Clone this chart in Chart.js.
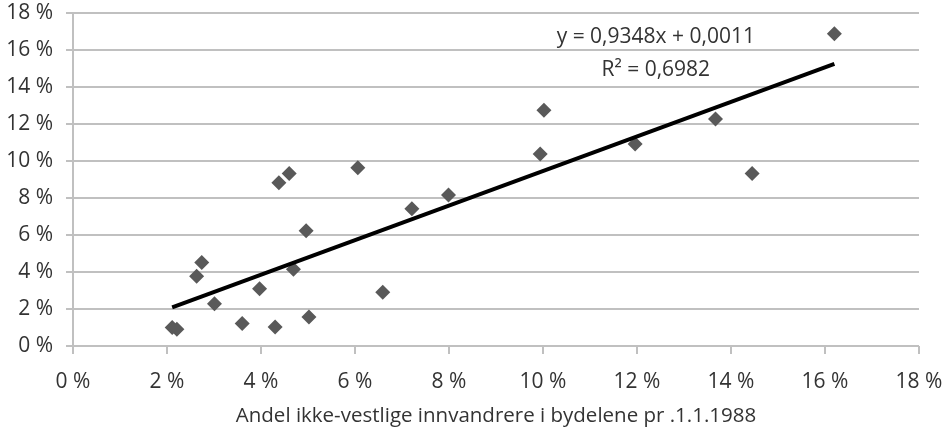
<!DOCTYPE html>
<html>
<head>
<meta charset="utf-8">
<script src="https://cdn.jsdelivr.net/npm/chart.js@4.4.1/dist/chart.umd.min.js"></script>
<style>
  html, body { margin: 0; padding: 0; background: #fff; }
  #wrap { width: 949px; height: 428px; position: relative; }
</style>
</head>
<body>
<div id="wrap"><canvas id="scatter"></canvas></div>
<script>
// andel ikke-vestlige innvandrere (x) mot y, i prosent
var xValues = [2.11, 2.21, 2.63, 2.74, 3.01, 3.60, 3.97, 4.30, 4.38, 4.60, 4.69, 4.96, 5.02,
               6.06, 6.59, 7.21, 7.99, 9.94, 10.02, 11.96, 13.67, 14.45, 16.20];
var yValues = [1.00, 0.90, 3.77, 4.51, 2.29, 1.21, 3.09, 1.03, 8.83, 9.33, 4.15, 6.23, 1.57,
               9.64, 2.91, 7.42, 8.16, 10.38, 12.74, 10.92, 12.27, 9.33, 16.88];

// trendlinje fra Excel
var slope = 0.9348;
var intercept = 0.0011;
var equationLines = ['y = 0,9348x + 0,0011', 'R\u00b2 = 0,6982'];
var axisTitle = 'Andel ikke-vestlige innvandrere i bydelene pr .1.1.1988';

var points = xValues.map(function (x, i) { return { x: x, y: yValues[i] }; });
var xMin = Math.min.apply(null, xValues);
var xMax = Math.max.apply(null, xValues);
var trend = [xMin, xMax].map(function (x) {
    return { x: x, y: (slope * x / 100 + intercept) * 100 };
});

var fontFamily = '"Open Sans", "Noto Sans", sans-serif';
var fontSize = 21;
var textColor = '#333333';
var gridColor = '#c0c0c0';

var equationPlugin = {
    id: 'equation',
    afterDatasetsDraw: function (chart) {
        var ctx = chart.ctx;
        var xs = chart.scales.x, ys = chart.scales.y;
        ctx.save();
        ctx.font = fontSize + 'px ' + fontFamily;
        ctx.fillStyle = textColor;
        ctx.textAlign = 'center';
        ctx.textBaseline = 'middle';
        ctx.fillText(equationLines[0], xs.getPixelForValue(12.4), ys.getPixelForValue(16.7));
        ctx.fillText(equationLines[1], xs.getPixelForValue(12.4), ys.getPixelForValue(14.9));
        ctx.restore();
    }
};

var ctx = document.getElementById('scatter').getContext('2d');
var chart = new Chart(ctx, {
    type: 'scatter',
    data: {
        datasets: [{
            type: 'line',
            data: trend,
            borderColor: '#000',
            borderWidth: 4,
            pointRadius: 0,
            fill: false
        }, {
            data: points,
            pointStyle: 'rectRot',
            pointRadius: 7.5,
            pointHoverRadius: 7.5,
            backgroundColor: '#595959',
            borderColor: '#595959',
            borderWidth: 0
        }]
    },
    plugins: [equationPlugin],
    options: {
        responsive: true,
        maintainAspectRatio: false,
        animation: false,
        layout: { padding: 0 },
        plugins: {
            legend: { display: false },
            tooltip: { enabled: false }
        },
        scales: {
            x: {
                type: 'linear',
                min: 0,
                max: 18,
                border: { display: false },
                grid: { drawOnChartArea: false, drawTicks: true, tickLength: 8, color: gridColor, lineWidth: 2 },
                ticks: {
                    stepSize: 2,
                    padding: 15,
                    color: textColor,
                    font: { family: fontFamily, size: fontSize },
                    callback: function (v) { return v + ' %'; }
                },
                title: {
                    display: true,
                    text: axisTitle,
                    color: textColor,
                    font: { family: fontFamily, size: 20.5 },
                    padding: { top: 2, bottom: 0 }
                },
                afterFit: function (scale) {
                    scale.height = 82;
                    scale.paddingLeft = 0;
                    scale.paddingRight = 30;
                }
            },
            y: {
                min: 0,
                max: 18,
                border: { display: true, color: gridColor, width: 2 },
                grid: { color: gridColor, lineWidth: 2, tickLength: 7 },
                ticks: {
                    stepSize: 2,
                    padding: 13,
                    color: textColor,
                    font: { family: fontFamily, size: fontSize },
                    callback: function (v) { return v + ' %'; }
                },
                afterFit: function (scale) {
                    scale.width = 73;
                    scale.paddingTop = 13;
                    scale.paddingBottom = 0;
                }
            }
        }
    }
});
</script>
</body>
</html>
